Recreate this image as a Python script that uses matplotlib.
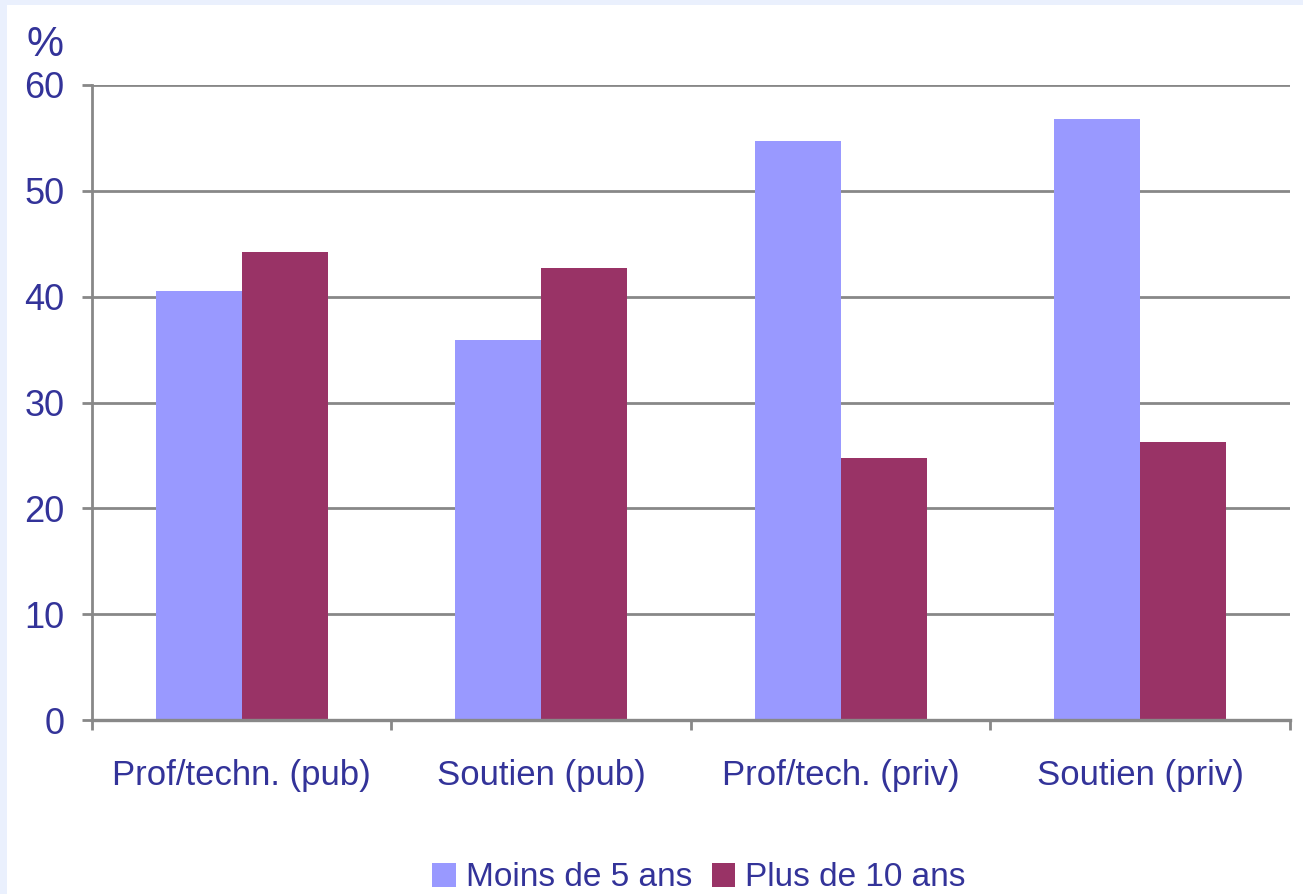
import matplotlib
matplotlib.use("Agg")
import matplotlib.pyplot as plt
from matplotlib.patches import Rectangle
import numpy as np

categories = ["Prof/techn. (pub)", "Soutien (pub)", "Prof/tech. (priv)", "Soutien (priv)"]
series_names = ["Moins de 5 ans", "Plus de 10 ans"]
moins_5 = [40.5, 35.9, 54.7, 56.8]
plus_10 = [44.2, 42.7, 24.8, 26.3]
yticks = [0, 10, 20, 30, 40, 50, 60]

plt.rcParams['font.family'] = ['Liberation Sans', 'DejaVu Sans']
txt_color = '#333399'
grid_color = '#888888'

fig = plt.figure(figsize=(13.03, 8.94), dpi=100)
fig.patch.set_facecolor('#EAF0FD')
bg = Rectangle((7/1303, 0), 1, 1 - 5/894, transform=fig.transFigure,
               facecolor='white', edgecolor='none', zorder=-10)
fig.patches.append(bg)

ax = fig.add_axes([92/1303, 1 - 720/894, (1290 - 92)/1303, (720 - 85)/894])
ax.set_facecolor('none')
ax.set_zorder(1)

x = np.arange(len(categories))
w = 0.287
ax.bar(x - w/2, moins_5, width=w, color='#9999FF', label=series_names[0], zorder=3)
ax.bar(x + w/2, plus_10, width=w, color='#993366', label=series_names[1], zorder=3)

ax.set_xlim(-0.5, len(categories) - 0.5)
ax.set_ylim(0, 60)
ax.set_yticks(yticks)
ax.set_yticklabels([str(v) for v in yticks])
ax.yaxis.grid(True, color=grid_color, linewidth=2.0, zorder=1)
ax.set_axisbelow(True)

ax.set_xticks(x)
ax.set_xticklabels(categories)
ax.set_xticks(np.arange(-0.5, len(categories), 1.0), minor=True)
ax.tick_params(axis='x', which='major', length=0, pad=28, labelsize=25, labelcolor=txt_color)
ax.tick_params(axis='x', which='minor', length=7, width=2.0, color=grid_color, direction='out')
ax.tick_params(axis='y', length=7, width=2.0, color=grid_color, pad=13, labelsize=26, labelcolor=txt_color)

for s in ['top', 'right']:
    ax.spines[s].set_visible(False)
ax.spines['left'].set_color(grid_color)
ax.spines['left'].set_linewidth(2.0)
ax.spines['bottom'].set_color(grid_color)
ax.spines['bottom'].set_linewidth(2.4)
ax.spines['bottom'].set_zorder(4)

fig.text(45/1303, 1 - 45/894, "%", ha='center', va='center', fontsize=30, color=txt_color)

leg = fig.legend(loc='center', bbox_to_anchor=(699/1303, 1 - 878/894), ncol=2, frameon=False,
                 fontsize=24, handlelength=0.7, handleheight=0.7, handletextpad=0.3,
                 columnspacing=0.6, borderaxespad=0)
for t in leg.get_texts():
    t.set_color(txt_color)

fig.savefig("out.png", dpi=100, facecolor=fig.get_facecolor())
